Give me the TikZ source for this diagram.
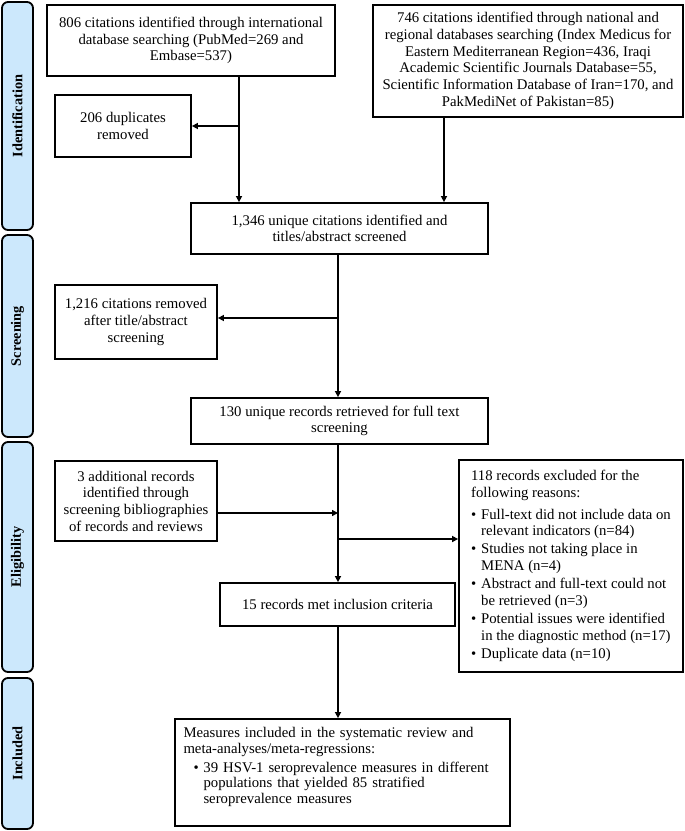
\documentclass[tikz,border=0pt]{standalone}
\usepackage{fontspec}
\setmainfont{Liberation Serif}
\usetikzlibrary{arrows.meta}
\definecolor{sidefill}{RGB}{204,232,252}
\newcommand{\boxfont}{\fontsize{14.75}{16.7}\selectfont}
\newcommand{\tightfont}{\fontsize{14.75}{15.2}\selectfont}
\newcommand{\itm}{\makebox[10pt][l]{\textbullet}}
\newcommand{\ind}{\hspace*{10pt}}
\begin{document}
\begin{tikzpicture}[x=1pt,y=1pt,
  box/.style={draw, line width=1.8pt, align=center, inner sep=0pt, font=\boxfont},
  side/.style={draw, line width=1.8pt, fill=sidefill, rounded corners=6pt, rotate=90,
     minimum height=31pt, inner sep=0pt, font=\fontsize{14.3}{16}\selectfont\bfseries},
  arr/.style={line width=1.6pt, -{Triangle[length=6pt,width=6pt]}}]
\useasboundingbox (0,0) rectangle (685,-831);
% side bars
\node[side, minimum width=228pt] (s1) at (17.5,-116) {Identification};
\node[side, minimum width=202pt] (s2) at (17.5,-336) {Screening};
\node[side, minimum width=230pt] (s3) at (17.5,-557) {Eligibility};
\node[side, minimum width=151pt] (s4) at (17.5,-753.5) {Included};
% boxes
\node[box, minimum width=288pt, minimum height=71pt] (A) at (191,-40.5)
  {806 citations identified through international\\database searching (PubMed=269 and\\Embase=537)};
\node[box, minimum width=310pt, minimum height=112pt] (B) at (528,-61)
  {746 citations identified through national and\\regional databases searching (Index Medicus for\\Eastern Mediterranean Region=436, Iraqi\\Academic Scientific Journals Database=55,\\Scientific Information Database of Iran=170, and\\PakMediNet of Pakistan=85)};
\node[box, minimum width=136pt, minimum height=62pt] (D) at (123,-126)
  {206 duplicates\\removed};
\node[box, minimum width=297pt, minimum height=51pt] (C) at (339.5,-228.5)
  {1,346 unique citations identified and\\titles/abstract screened};
\node[box, minimum width=162pt, minimum height=74pt] (E) at (136,-322)
  {1,216 citations removed\\after title/abstract\\screening};
\node[box, minimum width=297pt, minimum height=46pt] (F) at (339.5,-421)
  {130 unique records retrieved for full text\\screening};
\node[box, minimum width=162pt, minimum height=80pt] (G) at (136,-501)
  {3 additional records\\identified through\\screening bibliographies\\of records and reviews};
\node[box, align=left, minimum width=224pt, minimum height=212pt] (H) at (571,-566)
  {118 records excluded for the\\following reasons:\\[5pt]
   \itm Full-text did not include data on\\\ind relevant indicators (n=84)\\[1.5pt]
   \itm Studies not taking place in\\\ind MENA (n=4)\\[1.5pt]
   \itm Abstract and full-text could not\\\ind be retrieved (n=3)\\[1.5pt]
   \itm Potential issues were identified\\\ind in the diagnostic method (n=17)\\[1.5pt]
   \itm Duplicate data (n=10)};
\node[box, minimum width=235pt, minimum height=43pt] (I) at (337.5,-604.5)
  {15 records met inclusion criteria};
\node[box, font=\tightfont, align=left, text width=318pt, minimum width=335pt, minimum height=107pt] (J) at (342.5,-772.5)
  {Measures included in the systematic review and\\meta-analyses/meta-regressions:\\[4.5pt]
   \ind\itm 39 HSV-1 seroprevalence measures in different\\\ind\ind populations that yielded 85 stratified\\\ind\ind seroprevalence measures\\[-1pt]\mbox{}};
% connector guides
\coordinate (xa) at (239,0);
\coordinate (xb) at (444,0);
\coordinate (xc) at (338,0);
\coordinate (ye) at (0,-318);
\coordinate (yg) at (0,-513);
\coordinate (yh) at (0,-539);
% connectors
\draw[arr] (A.south -| xa) -- (C.north -| xa);
\draw[arr] (xa |- D.east) -- (D.east);
\draw[arr] (B.south -| xb) -- (C.north -| xb);
\draw[arr] (C.south -| xc) -- (F.north -| xc);
\draw[arr] (xc |- ye) -- (E.east |- ye);
\draw[arr] (F.south -| xc) -- (I.north -| xc);
\draw[arr] (G.east |- yg) -- (xc |- yg);
\draw[arr] (xc |- yh) -- (H.west |- yh);
\draw[arr] (I.south -| xc) -- (J.north -| xc);
\end{tikzpicture}
\end{document}
